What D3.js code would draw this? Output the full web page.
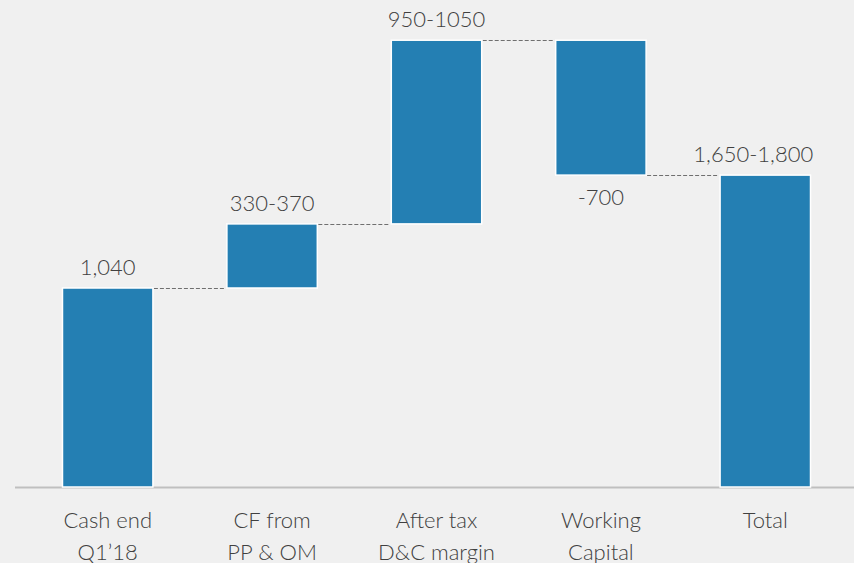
<!DOCTYPE html>
<html><head><meta charset="utf-8">
<script src="https://cdn.jsdelivr.net/npm/d3@7"></script>
<style>
html,body{margin:0;padding:0;background:#f0f0f0;}
svg{display:block;}
</style></head>
<body>
<svg id="chart" width="854" height="563"></svg>
<script>
const categories = [["Cash end","Q1\u201918"],["CF from","PP & OM"],["After tax","D&C margin"],["Working","Capital"],["Total"]];
const deltas = [1040, 335, 960, -705];
const valueLabels = ["1,040","330-370","950-1050","-700","1,650-1,800"];

const W = 854, H = 563;
const svg = d3.select("#chart");
svg.append("rect").attr("width",W).attr("height",H).attr("fill","#f0f0f0");

let run = 0;
const rows = deltas.map((d,i)=>{ const start = run; run += d; return {i, start, end: run, delta: d}; });
rows[0].start = 0;
rows.push({i: rows.length, start: 0, end: run, delta: run, total: true});

const x = d3.scaleBand().domain(d3.range(rows.length)).range([25.5, 847.5]).paddingInner(0.45).paddingOuter(0.225);
const y = d3.scaleLinear().domain([0, 1040]).range([487, 288]);

const font = "Lato, 'Open Sans', sans-serif";
const textColor = "#404040";

svg.append("line").attr("x1",15).attr("x2",854).attr("y1",y(0)+0.5).attr("y2",y(0)+0.5)
  .attr("stroke","#bfbfbf").attr("stroke-width",2);

rows.slice(0,-1).forEach((r,k)=>{
  const nx = rows[k+1];
  svg.append("line")
    .attr("x1", x(r.i)+x.bandwidth()+1).attr("x2", x(nx.i)-1)
    .attr("y1", Math.round(y(r.end))+0.5).attr("y2", Math.round(y(r.end))+0.5)
    .attr("stroke","#6f6f6f").attr("stroke-width",1.2).attr("stroke-dasharray","4,2");
});

svg.selectAll("rect.bar").data(rows).join("rect").attr("class","bar")
  .attr("x", d=>x(d.i)).attr("width", x.bandwidth())
  .attr("y", d=>y(Math.max(d.start,d.end)))
  .attr("height", d=>Math.abs(y(d.start)-y(d.end)))
  .attr("fill","#247fb3").attr("stroke","#ffffff").attr("stroke-width",1.5);

svg.selectAll("text.val").data(rows).join("text").attr("class","val")
  .attr("x", d=>x(d.i)+x.bandwidth()/2 + (d.total ? -12 : 0))
  .attr("y", d=> d.delta<0 ? y(d.end)+30 : y(d.end)-13)
  .attr("text-anchor","middle").attr("font-family",font).attr("font-weight",300)
  .attr("font-size",22).attr("fill",textColor)
  .text((d,i)=>valueLabels[i]);

const cat = svg.selectAll("text.cat").data(rows).join("text").attr("class","cat")
  .attr("text-anchor","middle").attr("font-family",font).attr("font-weight",300)
  .attr("font-size",22).attr("fill",textColor);
cat.each(function(d,i){
  const t = d3.select(this);
  categories[i].forEach((line,j)=>{
    t.append("tspan").attr("x", x(d.i)+x.bandwidth()/2).attr("y", 528 + j*32).text(line);
  });
});
</script>
</body></html>
